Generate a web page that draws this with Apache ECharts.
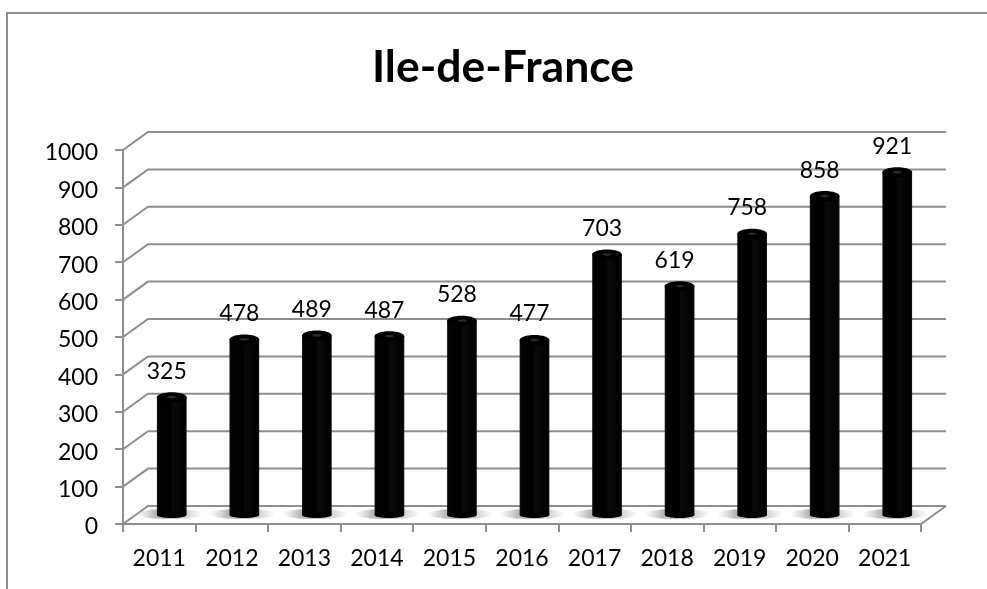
<!DOCTYPE html>
<html><head><meta charset="utf-8">
<style>html,body{margin:0;padding:0;background:#fff}#c{width:987px;height:589px}</style>
<script src="https://cdn.jsdelivr.net/npm/echarts@6/dist/echarts.min.js"></script>
</head><body><div id="c"></div>
<script>
const titleText = 'Ile-de-France';
const years = ['2011','2012','2013','2014','2015','2016','2017','2018','2019','2020','2021'];
const visits = [325,478,489,487,528,477,703,619,758,858,921];
const yTicks = [0,100,200,300,400,500,600,700,800,900,1000];

const GRAY = '#8e8e8e';
const FONT = 'Lato';
const chart = echarts.init(document.getElementById('c'), null, {renderer:'canvas'});

// Depth of the 3D box in pixels
const DX = 25, DY = -18;

const grids = [
  {left:123, width:798, top:150, height:374},              // front plane: axes
  {left:123+DX, width:798, top:150+DY, height:374},        // back wall: gridlines
  {left:123+DX/2, width:798, top:142.5, height:377.5},     // middle: columns
  {left:123, width:798, top:153, height:374}               // tick labels of the value axis
];
function xA(i, show){
  return {type:'category', gridIndex:i, data:years, show:show, boundaryGap:true,
    axisLine:{show:show, lineStyle:{color:GRAY,width:2}},
    axisTick:{show:show, alignWithLabel:false, length:8, lineStyle:{color:GRAY,width:2}},
    axisLabel:{show:show, color:'#000', fontFamily:FONT, fontSize:23, margin:23, interval:0},
    splitLine:{show:false}};
}
function yA(i, show, labels){
  return {type:'value', gridIndex:i, min:0, max:1000, interval:100, show:show,
    axisLine:{show:show && !labels, onZero:false, lineStyle:{color:GRAY,width:2}},
    axisTick:{show:show && !labels, length:8, lineStyle:{color:GRAY,width:2}},
    axisLabel:{show:show && labels, color:'#000', fontFamily:FONT, fontSize:23, margin:25,
      formatter:(v)=>String(v)},
    splitLine:{show:false}};
}

const option = {
  animation:false,
  backgroundColor:'#fff',
  title:{text:titleText, left:498, top:40, textAlign:'center',
    textStyle:{fontFamily:FONT, fontWeight:'bold', fontSize:44.5, color:'#000'}},
  grid:grids,
  xAxis:[xA(0,true),xA(1,false),xA(2,false),xA(3,false)],
  yAxis:[yA(0,true,false),yA(1,false,false),yA(2,false,false),yA(3,true,true)],
  graphic:[
    {type:'polyline', silent:true, z:0, shape:{points:[[7,589],[7,13],[987,13]]},
     style:{stroke:GRAY,lineWidth:2,fill:null}}
  ],
  series:[
    { // back-wall gridlines with their depth strokes to the front axis
      type:'custom', xAxisIndex:1, yAxisIndex:1, z:1, silent:true,
      data:yTicks,
      encode:{y:0},
      renderItem(params, api){
        const v = api.value(0);
        const cs = params.coordSys;
        const y = api.coord([0,v])[1];
        const l = cs.x, r = cs.x+cs.width;
        const children = [{type:'polyline', shape:{points:[[l-DX,y-DY],[l,y],[r,y]]},
          style:{stroke:GRAY,lineWidth:2,fill:null}}];
        if(v===0){
          children.push({type:'line', shape:{x1:r,y1:y,x2:r-DX,y2:y-DY},
            style:{stroke:GRAY,lineWidth:2}});
        }
        return {type:'group', children};
      }
    },
    { // columns
      type:'custom', xAxisIndex:2, yAxisIndex:2, z:3, silent:true,
      data:years.map((y,i)=>[i,visits[i]]),
      encode:{x:0,y:1},
      renderItem(params, api){
        const i = api.value(0), v = api.value(1);
        const top = api.coord([i,v]);
        const baseY = api.coord([i,0])[1]-5;
        const w = api.size([1,0])[0]*0.41, rx = w/2, ry = 5;
        const cx = top[0];
        const body = new echarts.graphic.LinearGradient(0,0,1,0,[
          {offset:0,color:'#1c1c1c'},{offset:0.05,color:'#030303'},{offset:0.45,color:'#000'},
          {offset:0.55,color:'#0a0a0a'},{offset:0.95,color:'#000'},{offset:1,color:'#1c1c1c'}]);
        const floor = new echarts.graphic.LinearGradient(0,0,1,0,[
          {offset:0,color:'rgba(170,170,170,0)'},{offset:0.28,color:'rgba(130,130,130,0.55)'},
          {offset:0.72,color:'rgba(150,150,150,0.45)'},{offset:1,color:'rgba(170,170,170,0)'}]);
        return {type:'group', children:[
          {type:'ellipse', z2:1, shape:{cx:cx-2,cy:baseY-1,rx:33,ry:5},
            style:{fill:floor, shadowBlur:4, shadowColor:'rgba(200,200,200,0.3)'}},
          {type:'rect', z2:2, shape:{x:cx-rx,y:top[1],width:w,height:baseY-top[1]}, style:{fill:body}},
          {type:'ellipse', z2:2, shape:{cx,cy:baseY,rx,ry:3}, style:{fill:'#000'}},
          {type:'ellipse', z2:3, shape:{cx,cy:top[1],rx,ry}, style:{fill:'#000'}},
          {type:'ellipse', z2:4, shape:{cx,cy:top[1],rx:rx*0.3,ry:1.2}, style:{fill:'#2c2c2c'}},
          {type:'text', z2:5, style:{text:String(v), x:cx-5, y:top[1]-26, align:'center', verticalAlign:'middle',
            fill:'#000', font:'23px '+FONT}}
        ]};
      }
    }
  ]
};
chart.setOption(option);
</script></body></html>
